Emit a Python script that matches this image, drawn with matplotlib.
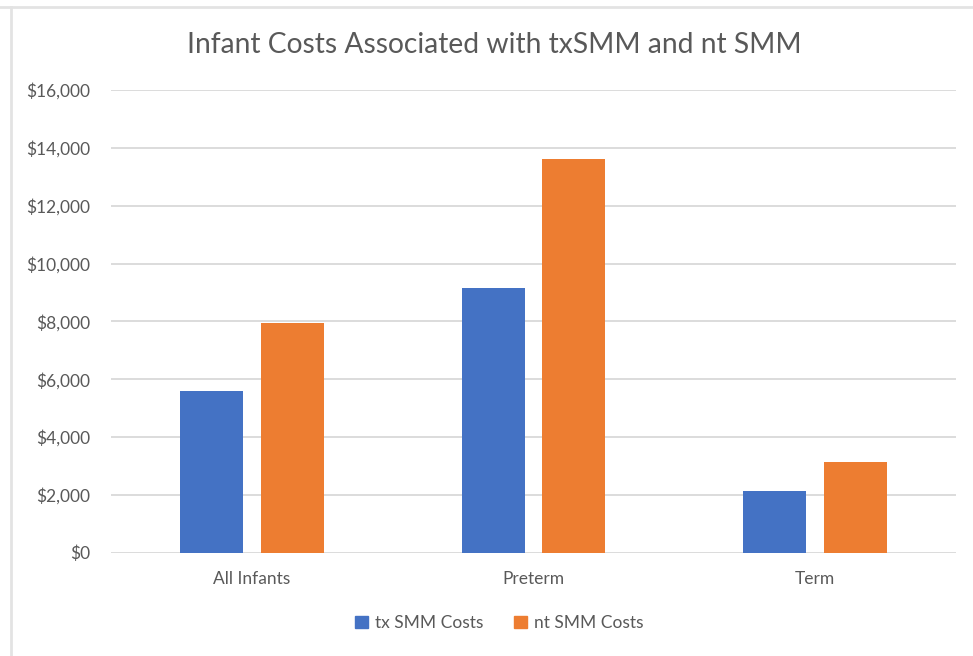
"""Infant costs associated with txSMM and nt SMM"""

import matplotlib.pyplot as plt
import numpy as np
from matplotlib.ticker import FuncFormatter
from matplotlib.lines import Line2D

categories = ["All Infants", "Preterm", "Term"]
tx_costs = [5600, 9140, 2120]
nt_costs = [7930, 13620, 3140]
series_names = ["tx SMM Costs", "nt SMM Costs"]

BLUE = "#4472c4"
ORANGE = "#ed7d31"
TEXT = "#595959"
GRID = "#d9d9d9"

plt.rcParams["font.family"] = ["Lato", "DejaVu Sans"]

fig = plt.figure(figsize=(9.73, 6.56), dpi=100)
ax = fig.add_axes([111 / 973, 1 - 552.7 / 656, (956 - 111) / 973, (552.7 - 90) / 656])

x = np.arange(len(categories))
w = 0.224
off = 0.143
ax.bar(x - off, tx_costs, w, color=BLUE, label=series_names[0], zorder=3)
ax.bar(x + off, nt_costs, w, color=ORANGE, label=series_names[1], zorder=3)

ax.set_xlim(-0.5, len(categories) - 0.5)
ax.set_ylim(0, 16000)
ax.set_yticks(np.arange(0, 16001, 2000))
ax.yaxis.set_major_formatter(FuncFormatter(lambda v, p: "${:,.0f}".format(v)))
ax.yaxis.grid(True, color=GRID, linewidth=1.3, zorder=0)
ax.set_xticks(x)
ax.set_xticklabels(categories)
ax.tick_params(axis="both", length=0, labelsize=12.5, labelcolor=TEXT)
ax.tick_params(axis="y", pad=15)
ax.tick_params(axis="x", pad=13)
for s in ax.spines.values():
    s.set_visible(False)

fig.text(494 / 973, 1 - 45 / 656, "Infant Costs Associated with txSMM and nt SMM",
         ha="center", va="center", fontsize=20.3, color=TEXT)

handles = [plt.Rectangle((0, 0), 1, 1, color=BLUE), plt.Rectangle((0, 0), 1, 1, color=ORANGE)]
fig.legend(handles, series_names, loc="center", bbox_to_anchor=(0.513, 1 - 623 / 656),
           ncol=2, frameon=False, fontsize=12.5, labelcolor=TEXT, handlelength=0.75,
           handleheight=0.75, handletextpad=0.4, columnspacing=1.8)

# chart area frame (top and left edges only show in the screenshot)
fig.add_artist(Line2D([0, 1], [1 - 6.5 / 656] * 2, color="#e3e3e3", linewidth=2, transform=fig.transFigure))
fig.add_artist(Line2D([11 / 973] * 2, [0, 1 - 6.5 / 656], color="#e3e3e3", linewidth=2, transform=fig.transFigure))

fig.savefig("out.png", dpi=100)
